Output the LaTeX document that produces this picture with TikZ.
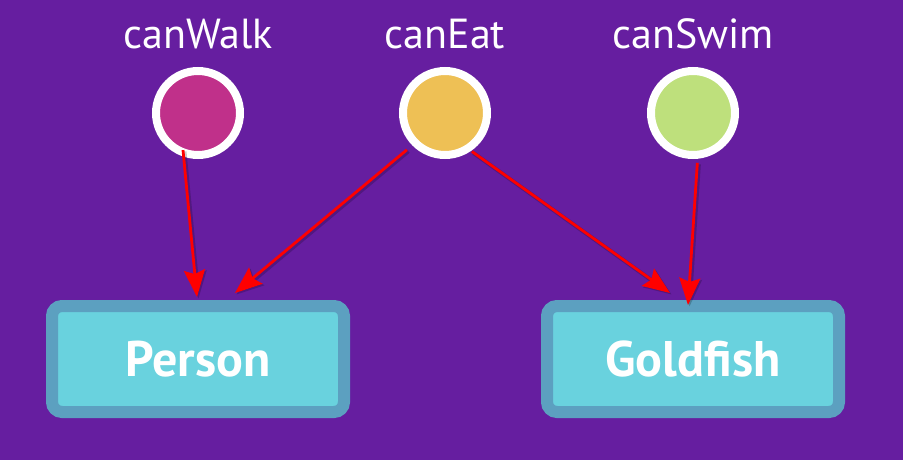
\documentclass[tikz,border=0pt]{standalone}
\usepackage{fontspec}
\setmainfont{PT Sans}
\usepackage{xcolor}
\usetikzlibrary{positioning,arrows.meta}

\definecolor{bgpurple}{RGB}{102,30,160}
\definecolor{walkc}{RGB}{192,48,138}
\definecolor{eatc}{RGB}{238,192,85}
\definecolor{swimc}{RGB}{190,224,124}
\definecolor{boxedge}{RGB}{92,160,192}
\definecolor{boxfill}{RGB}{105,210,222}

\begin{document}
\begin{tikzpicture}[x=1pt, y=-1pt,
    dot/.style={circle, draw=white, line width=8pt, minimum size=84pt, inner sep=0pt},
    lbl/.style={text=white, inner sep=0pt, font=\fontsize{42}{50}\selectfont},
    classbox/.style={draw=boxedge, fill=boxfill, line width=12pt, rounded corners=10pt,
        minimum width=292pt, minimum height=106pt, text=white,
        font=\bfseries\fontsize{50}{60}\selectfont},
    arr/.style={draw=red, line width=2.8pt, -{Stealth[length=27pt,width=21pt,inset=4pt]},
        preaction={draw=black, opacity=.2, line width=4pt,
            transform canvas={shift={(1.5pt,-1.5pt)}}}}]
    \fill[bgpurple] (0,0) rectangle (903,460);

    % behaviours
    \node[dot, fill=walkc] (walk) at (198,113) {};
    \node[dot, fill=eatc] (eat) at (445,113) {};
    \node[dot, fill=swimc] (swim) at (693,113) {};
    \node[lbl, above=18pt of walk] (walklbl) {canWalk};
    \node[lbl, above=18pt of eat] (eatlbl) {canEat};
    \node[lbl, above=18pt of swim] (swimlbl) {canSwim};

    % classes
    \node[classbox] (person) at (198,359) {Person};
    \node[classbox] (goldfish) at (693,359) {Goldfish};

    \draw[arr] ([shift={(248:40pt)}]walk.center) -- ([xshift=-1pt,yshift=3pt]person.north);
    \draw[arr] ([shift={(224:53pt)}]eat.center) -- ([xshift=37pt,yshift=7pt]person.north);
    \draw[arr] ([shift={(305:47pt)}]eat.center) -- ([xshift=-23pt,yshift=7pt]goldfish.north);
    \draw[arr] ([shift={(275:50pt)}]swim.center) -- ([xshift=-5pt,yshift=-5pt]goldfish.north);
\end{tikzpicture}
\end{document}
